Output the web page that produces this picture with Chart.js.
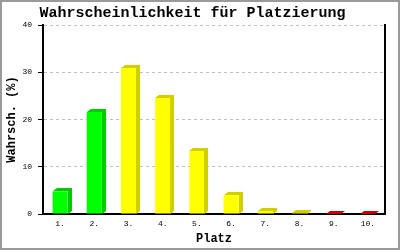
<!DOCTYPE html>
<html>
<head>
<meta charset="utf-8">
<script src="https://cdn.jsdelivr.net/npm/chart.js@4/dist/chart.umd.min.js"></script>
<style>
html,body{margin:0;padding:0;background:#fff;}
#wrap{width:400px;height:250px;position:relative;}
</style>
</head>
<body>
<div id="wrap"><canvas id="c" width="400" height="250"></canvas></div>
<script>
const categories = ['1.', '2.', '3.', '4.', '5.', '6.', '7.', '8.', '9.', '10.'];
const probabilities = [4.8, 21.6, 30.9, 24.6, 13.4, 4.0, 0.7, 0.2, 0.1, 0.1];
const yTicks = [0, 10, 20, 30, 40];
const chartTitle = 'Wahrscheinlichkeit für Platzierung';
const yTitle = 'Wahrsch. (%)';
const xTitle = 'Platz';

const frontColors = ['#00ff00','#00ff00','#ffff00','#ffff00','#ffff00','#ffff00','#ffff00','#ffff00','#ee0000','#ee0000'];
const darkColors  = ['#00cc00','#00cc00','#d0d000','#d0d000','#d0d000','#d0d000','#d0d000','#d0d000','#cc0000','#cc0000'];

const mono = "'Liberation Mono', 'DejaVu Sans Mono', monospace";

const frame = {
  id: 'frame',
  beforeDraw(chart) {
    const ctx = chart.ctx;
    ctx.save();
    ctx.fillStyle = '#fff';
    ctx.fillRect(0, 0, chart.width, chart.height);
    ctx.restore();
  },
  afterDraw(chart) {
    const ctx = chart.ctx;
    ctx.save();
    ctx.strokeStyle = '#9a9a9a';
    ctx.lineWidth = 2;
    ctx.strokeRect(1, 1, chart.width - 2, chart.height - 2);
    ctx.restore();
  }
};

const bars3d = {
  id: 'bars3d',
  afterDatasetsDraw(chart) {
    const ctx = chart.ctx;
    const meta = chart.getDatasetMeta(0);
    const dx = 4, dy = 3;
    ctx.save();
    meta.data.forEach((el, i) => {
      const p = el.getProps(['x', 'y', 'base', 'width'], true);
      const l = Math.round(p.x - p.width / 2), r = Math.round(p.x + p.width / 2);
      const t = Math.round(p.y), b = Math.round(p.base);
      ctx.fillStyle = darkColors[i];
      ctx.beginPath();
      ctx.moveTo(l, t);
      ctx.lineTo(l + dx, t - dy);
      ctx.lineTo(r + dx, t - dy);
      ctx.lineTo(r + dx, b - dy);
      ctx.lineTo(r, b);
      ctx.lineTo(r, t);
      ctx.closePath();
      ctx.fill();
    });
    ctx.restore();
  }
};

new Chart(document.getElementById('c'), {
  type: 'bar',
  data: {
    labels: categories,
    datasets: [{
      data: probabilities,
      backgroundColor: frontColors,
      borderWidth: 0,
      barPercentage: 0.44,
      categoryPercentage: 1.0
    }]
  },
  options: {
    responsive: false,
    animation: false,
    devicePixelRatio: 1,
    layout: { padding: { left: 0, right: 15, top: 0, bottom: 0 } },
    plugins: {
      legend: { display: false },
      tooltip: { enabled: false },
      title: {
        display: true,
        text: chartTitle,
        color: '#000',
        font: { family: mono, size: 15, weight: 'bold' },
        padding: { top: 4, bottom: 3 }
      }
    },
    scales: {
      x: {
        offset: true,
        grid: { display: false, drawTicks: false },
        border: { display: true, color: '#000', width: 2 },
        ticks: { color: '#000', font: { family: mono, size: 8 }, padding: 5, maxRotation: 0, autoSkip: false },
        title: { display: true, text: xTitle, color: '#000', font: { family: mono, size: 12, weight: 'bold' }, padding: { top: 0, bottom: 4 } },
        afterFit(s) { s.height = 36; }
      },
      y: {
        min: 0, max: 40,
        afterBuildTicks(s) { s.ticks = yTicks.map(v => ({ value: v })); },
        grid: { color: '#c0c0c0', lineWidth: 1, drawTicks: true, tickLength: 5, tickColor: '#000', tickWidth: 1 },
        border: { display: true, color: '#000', width: 2, dash: [3, 3] },
        ticks: { color: '#000', font: { family: mono, size: 8 }, padding: 6 },
        title: { display: true, text: yTitle, color: '#000', font: { family: mono, size: 12, weight: 'bold' }, padding: { top: 5, bottom: 0 } },
        afterFit(s) { s.width = 43; }
      },
      y2: {
        position: 'right',
        min: 0, max: 40,
        grid: { display: false, drawTicks: false },
        border: { display: true, color: '#000', width: 2 },
        ticks: { display: false },
        afterFit(s) { s.width = 0; }
      }
    }
  },
  plugins: [frame, bars3d]
});
</script>
</body>
</html>
